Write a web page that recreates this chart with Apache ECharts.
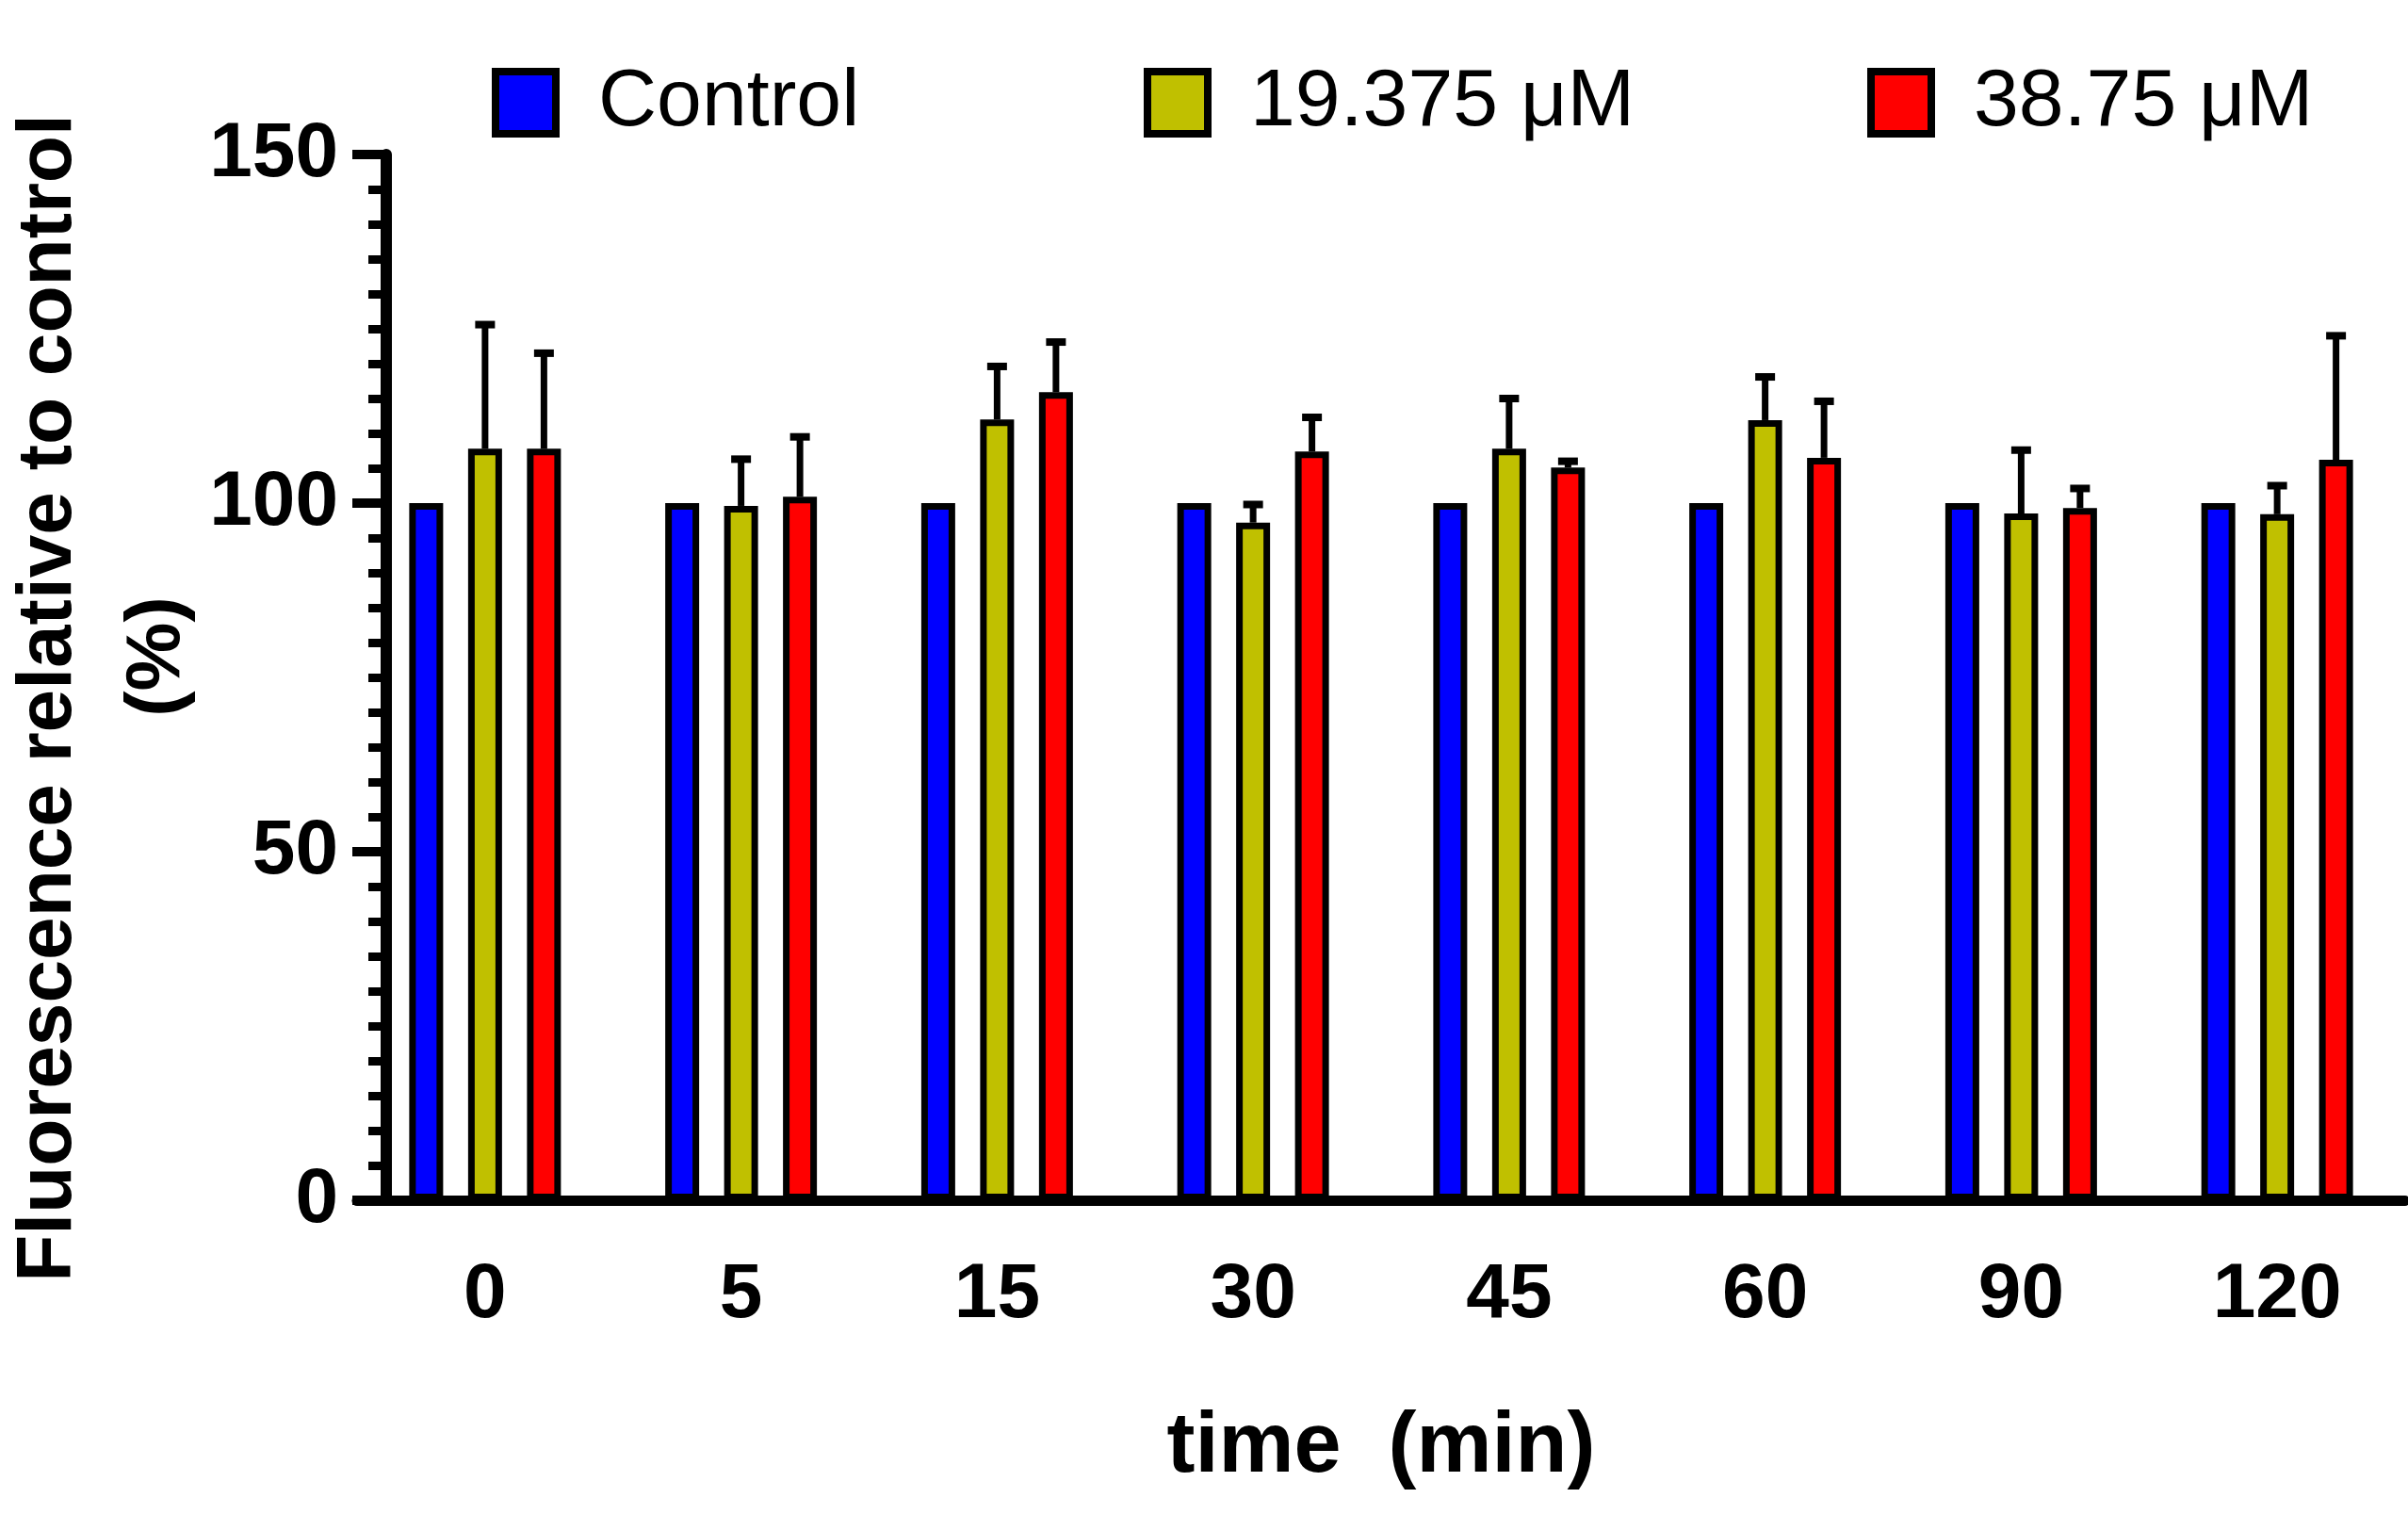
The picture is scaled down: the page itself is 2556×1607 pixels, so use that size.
<!DOCTYPE html>
<html>
<head>
<meta charset="utf-8">
<script src="https://cdn.jsdelivr.net/npm/echarts@6/dist/echarts.min.js"></script>
<style>
  html, body { margin: 0; padding: 0; background: #fff; }
  #container { width: 2556px; height: 1607px; }
</style>
</head>
<body>
<div id="container"></div>
<script>
// time points (min)
let times = ['0', '5', '15', '30', '45', '60', '90', '120'];
let seriesNames = ['Control', '19.375 μM', '38.75 μM'];

// mean fluorescence relative to control (%)
let control = [100, 100, 100, 100, 100, 100, 100, 100];
let low = [107.8, 99.6, 112.0, 97.2, 107.8, 111.9, 98.5, 98.4];
let high = [107.8, 100.9, 115.9, 107.4, 105.1, 106.5, 99.3, 106.2];

// upper error (SD)
let lowSd = [17.8, 6.7, 7.6, 2.6, 7.2, 6.2, 9.1, 4.1];
let highSd = [13.7, 8.6, 7.2, 4.9, 0.9, 8.1, 2.8, 17.8];

let yTicks = [0, 50, 100, 150];

const FONT = 'Liberation Sans, Arial, Helvetica, sans-serif';
const barWidth = 36;
const barGap = 0.736;
const barStep = barWidth * (1 + barGap);

function errorData(means, sd) {
    return means.map((m, i) => [i, m, m + sd[i]]);
}

// draws the upper error whisker, shifted to the bar of the given slot (-1, 0, 1)
function errorRenderer(slot) {
    return function (params, api) {
        let i = api.value(0);
        let base = api.coord([i, api.value(1)]);
        let top = api.coord([i, api.value(2)]);
        let x = base[0] + slot * barStep;
        return {
            type: 'group',
            children: [
                { type: 'line', shape: { x1: x, y1: base[1], x2: x, y2: top[1] },
                  style: { stroke: '#000', lineWidth: 7 } },
                { type: 'line', shape: { x1: x - 10.5, y1: top[1], x2: x + 10.5, y2: top[1] },
                  style: { stroke: '#000', lineWidth: 8 } }
            ]
        };
    };
}

function barSeries(name, color, values) {
    return {
        name: name,
        type: 'bar',
        data: values,
        barWidth: barWidth,
        barGap: (barGap * 100) + '%',
        itemStyle: { color: color, borderColor: '#000', borderWidth: 7 },
        z: 2
    };
}

function legendAt(left, name) {
    return {
        data: [{ name: name, icon: 'rect' }],
        left: left,
        top: 59,
        padding: 0,
        itemWidth: 64,
        itemHeight: 66,
        selectedMode: false,
        itemStyle: { borderColor: '#000', borderWidth: 8 },
        textStyle: {
            fontFamily: FONT, fontSize: 86, color: '#000',
            lineHeight: 100, padding: [0, 0, 0, 40]
        }
    };
}

let chart = echarts.init(document.getElementById('container'));

chart.setOption({
    animation: false,
    backgroundColor: '#fff',
    legend: [
        legendAt(522, seriesNames[0]),
        legendAt(1214, seriesNames[1]),
        legendAt(1982, seriesNames[2])
    ],
    grid: { left: 379, right: 3, top: 164, bottom: 333, outerBoundsMode: 'none' },
    xAxis: {
        type: 'category',
        data: times,
        name: 'time  (min)',
        nameLocation: 'middle',
        nameGap: 218,
        nameMoveOverlap: false,
        nameTextStyle: { fontFamily: FONT, fontSize: 90, fontWeight: 'bold', color: '#000' },
        axisLine: { lineStyle: { color: '#000', width: 11 } },
        axisTick: { alignWithLabel: true, length: 33, lineStyle: { color: '#000', width: 11 } },
        axisLabel: {
            interval: 0, margin: 60,
            fontFamily: FONT, fontSize: 82, fontWeight: 'bold', color: '#000'
        }
    },
    yAxis: {
        type: 'value',
        min: yTicks[0],
        max: yTicks[yTicks.length - 1],
        interval: 50,
        offset: -31,
        name: '{a|Fluorescence relative to control}\n{b|(%)}',
        nameLocation: 'middle',
        nameGap: 185,
        nameMoveOverlap: false,
        nameTextStyle: {
            fontFamily: FONT, fontSize: 82, fontWeight: 'bold', color: '#000', lineHeight: 115,
            rich: {
                a: { fontFamily: FONT, fontSize: 82, fontWeight: 'bold', color: '#000',
                     lineHeight: 115, padding: [0, 44, 0, 0] },
                b: { fontFamily: FONT, fontSize: 82, fontWeight: 'bold', color: '#000',
                     lineHeight: 115, padding: [0, 0, 0, 44] }
            }
        },
        axisLine: { show: true, lineStyle: { color: '#000', width: 12 } },
        axisTick: { show: true, length: 36, lineStyle: { color: '#000', width: 10 } },
        minorTick: { show: true, splitNumber: 10, length: 19, lineStyle: { color: '#000', width: 9 } },
        splitLine: { show: false },
        minorSplitLine: { show: false },
        axisLabel: {
            margin: 51,
            fontFamily: FONT, fontSize: 82, fontWeight: 'bold', color: '#000'
        }
    },
    series: [
        barSeries(seriesNames[0], '#0000FF', control),
        barSeries(seriesNames[1], '#C0C000', low),
        barSeries(seriesNames[2], '#FF0000', high),
        {
            type: 'custom',
            renderItem: errorRenderer(0),
            data: errorData(low, lowSd),
            z: 3
        },
        {
            type: 'custom',
            renderItem: errorRenderer(1),
            data: errorData(high, highSd),
            z: 3
        }
    ]
});
</script>
</body>
</html>
